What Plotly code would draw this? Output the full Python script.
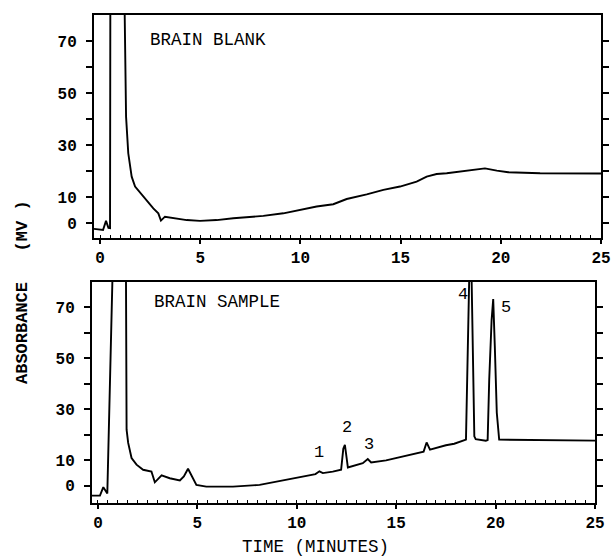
import plotly.graph_objects as go

# ---- data (time in minutes, absorbance in mV) ----
blank_time = [-0.3, 0.15, 0.3, 0.42, 0.5, 0.52, 1.18, 1.22, 1.3, 1.41,
              1.58, 1.75, 2.08, 2.41, 2.66, 2.91, 3.04, 3.24, 3.66, 4.33,
              4.99, 5.82, 6.65, 8.15, 9.15, 9.98, 10.81, 11.64, 12.31, 13.31,
              14.14, 14.97, 15.8, 16.3, 16.8, 17.3, 18.3, 19.21, 19.8, 20.37,
              21.96, 25.0]
blank_abs = [-2.3, -2.7, 0.8, -1.9, -2.0, 110, 110, 80, 40.9, 26.8,
             17.8, 14.0, 10.8, 7.6, 5.6, 3.7, 0.9, 2.4, 1.8, 1.1,
             0.8, 1.1, 1.8, 2.7, 3.7, 5.0, 6.3, 7.2, 9.2, 11.0,
             12.7, 14.0, 15.9, 17.8, 18.8, 19.1, 20.0, 21.0, 20.1, 19.5,
             19.1, 19.0]

sample_time = [-0.32, 0.1, 0.27, 0.4, 0.47, 0.74, 1.38, 1.41, 1.44, 1.52,
               1.69, 1.94, 2.27, 2.69, 2.86, 3.2, 3.61, 4.12, 4.32, 4.53,
               4.7, 4.95, 5.45, 6.79, 8.13, 9.47, 10.14, 10.94, 11.14, 11.31,
               11.81, 12.23, 12.34, 12.42, 12.57, 13.32, 13.57, 13.74, 14.49, 15.16,
               16.0, 16.38, 16.53, 16.7, 17.5, 17.92, 18.51, 18.6, 18.67, 18.73,
               18.79, 18.86, 18.93, 19.0, 19.51, 19.6, 19.68, 19.8, 19.88, 19.96,
               20.06, 20.18, 25.0]
sample_abs = [-3.8, -3.8, -0.5, -2.2, -3.0, 85, 110, 80, 22, 16.8,
              10.9, 8.3, 6.3, 5.6, 1.4, 4.1, 3.0, 2.1, 3.7, 6.7,
              4.3, 0.4, -0.3, -0.3, 0.4, 2.4, 3.5, 4.6, 5.7, 5.0,
              5.6, 6.3, 14.5, 16.1, 7.2, 8.9, 10.5, 9.2, 10.0, 11.3,
              12.8, 13.4, 17.0, 14.2, 15.9, 16.5, 18.1, 50, 80, 110,
              80, 45, 19.4, 18.3, 17.7, 17.9, 41.7, 65, 73.1, 54.8,
              28.6, 18.1, 17.7]

peak_labels = ["1", "2", "3", "4", "5"]
peak_label_time = [11.14, 12.53, 13.62, 18.34, 20.52]
peak_label_abs = [13.1, 22.7, 16.1, 75.1, 69.9]

x_ticks = [0, 5, 10, 15, 20, 25]
y_ticks = [0, 10, 20, 30, 40, 50, 60, 70]
y_ticktext = ["0", "10", "", "30", "", "50", "", "70"]

W, H = 611, 557
MONO = "Liberation Mono"
NB = "\u00a0"


def px_x(p):
    return p / W


def px_y(p):
    return 1 - p / H


fig = go.Figure()
fig.add_trace(go.Scatter(x=blank_time, y=blank_abs, mode="lines",
                         line=dict(color="black", width=1.9),
                         xaxis="x", yaxis="y", showlegend=False))
fig.add_trace(go.Scatter(x=sample_time, y=sample_abs, mode="lines",
                         line=dict(color="black", width=1.9),
                         xaxis="x2", yaxis="y2", showlegend=False))

tickfont = dict(family=MONO, size=16, color="black", weight="bold")


def xaxis(domain, anchor):
    return dict(domain=domain, anchor=anchor, range=[-0.3, 25],
                automargin=False,
                tickmode="array", tickvals=x_ticks,
                ticktext=[str(v) for v in x_ticks],
                showline=True, linecolor="black", linewidth=2, mirror=True,
                ticks="outside", ticklen=4, tickwidth=1.5, tickcolor="black",
                ticklabelstandoff=0,
                minor=dict(tick0=0, dtick=0.5, ticks="inside", ticklen=3,
                           tickwidth=1.2, tickcolor="black", showgrid=False),
                showgrid=False, zeroline=False, tickfont=tickfont)


def yaxis(domain, anchor, rng):
    return dict(domain=domain, anchor=anchor, range=rng,
                automargin=False,
                tickmode="array", tickvals=y_ticks, ticktext=y_ticktext,
                showline=True, linecolor="black", linewidth=2, mirror="ticks",
                ticks="outside", ticklen=6, tickwidth=1.5, tickcolor="black",
                ticklabelstandoff=6,
                showgrid=False, zeroline=False, tickfont=tickfont)


fig.update_layout(
    width=W, height=H,
    margin=dict(l=0, r=0, t=0, b=0, autoexpand=False),
    paper_bgcolor="white", plot_bgcolor="white",
    xaxis=xaxis([px_x(94), px_x(601)], "y"),
    yaxis=yaxis([px_y(238), px_y(15)], "x", [-5.8, 80]),
    xaxis2=xaxis([px_x(92), px_x(595)], "y2"),
    yaxis2=yaxis([px_y(503), px_y(282)], "x2", [-6.7, 79.8]),
)

annots = [
    dict(text="BRAIN BLANK", x=2.4, y=70.4, xref="x", yref="y",
         xanchor="left", yanchor="middle", showarrow=False,
         font=dict(family=MONO, size=17.5, color="black")),
    dict(text="BRAIN SAMPLE", x=2.7, y=71.8, xref="x2", yref="y2",
         xanchor="left", yanchor="middle", showarrow=False,
         font=dict(family=MONO, size=17.5, color="black")),
    dict(text="ABSORBANCE" + NB * 3 + "(MV" + NB + ")", x=px_x(22), y=px_y(292),
         xref="paper", yref="paper", textangle=-90, showarrow=False,
         xanchor="center", yanchor="middle",
         font=dict(family=MONO, size=17, color="black", weight="bold")),
    dict(text="TIME (MINUTES)", x=px_x(315), y=px_y(547),
         xref="paper", yref="paper", showarrow=False,
         xanchor="center", yanchor="middle",
         font=dict(family=MONO, size=17.5, color="black")),
]
for lab, t, a in zip(peak_labels, peak_label_time, peak_label_abs):
    annots.append(dict(text=lab, x=t, y=a, xref="x2", yref="y2",
                       showarrow=False, xanchor="center", yanchor="middle",
                       font=dict(family=MONO, size=17, color="black")))
fig.update_layout(annotations=annots)

fig.write_html("out.html")
